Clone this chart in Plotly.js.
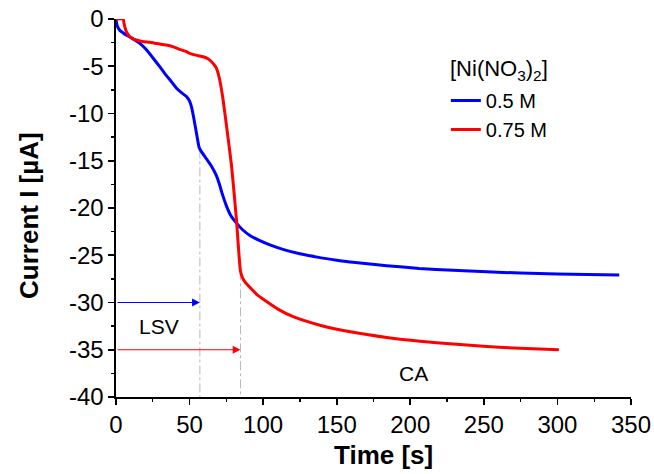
<!DOCTYPE html>
<html>
<head>
<meta charset="utf-8">
<script src="https://cdn.plot.ly/plotly-3.0.1.min.js"></script>
<style>html,body{margin:0;padding:0;background:#fff;}#chart{width:654px;height:474px;}</style>
</head>
<body>
<div id="chart"></div>
<script>
// Time [s] and current [µA] for 0.5 M Ni(NO3)2
const timeBlue = [0, 0.8, 2.5, 6, 10.5, 16, 21, 25, 30, 34.3, 38, 41, 44.5, 47.9, 50, 51.3, 53, 54.7, 56.5, 57.5, 61.5, 65, 68.3, 70.5, 72, 75.1, 78, 81.9, 86, 91, 97, 104.6, 114, 125, 138.6, 150, 161, 184, 206, 229, 252, 274.6, 300, 320, 342];
const currentBlue = [0, -0.7, -1.2, -1.6, -2.0, -2.55, -3.3, -4.1, -5.1, -6.0, -6.7, -7.3, -7.8, -8.2, -8.7, -9.3, -10.6, -12.1, -13.6, -13.9, -14.8, -15.6, -16.6, -17.6, -18.4, -19.8, -20.8, -21.6, -22.3, -22.9, -23.4, -23.9, -24.4, -24.85, -25.25, -25.52, -25.75, -26.1, -26.4, -26.6, -26.75, -26.88, -26.98, -27.05, -27.1];
// Time [s] and current [µA] for 0.75 M Ni(NO3)2
const timeRed = [0, 4.8, 5.5, 6.6, 8, 9.3, 11.5, 13.9, 18, 22.9, 28, 34.3, 39, 43.3, 47, 50.1, 55, 59.2, 62.5, 64.9, 66.8, 68.3, 69.5, 70.5, 72.8, 75.1, 78.5, 81.9, 84.6, 86, 88, 91, 96, 102.3, 110, 120.4, 138.6, 161.2, 184, 206.6, 229.2, 252, 274.6, 301];
const currentRed = [0, 0, -0.5, -1.16, -1.6, -1.87, -2.1, -2.22, -2.38, -2.47, -2.6, -2.75, -2.95, -3.21, -3.4, -3.63, -3.85, -3.99, -4.2, -4.52, -4.85, -5.22, -5.8, -6.46, -8.57, -11.3, -15.5, -21.3, -26.7, -27.4, -27.9, -28.4, -29.2, -29.9, -30.7, -31.5, -32.4, -33.15, -33.7, -34.1, -34.4, -34.65, -34.85, -35.0];

const seriesNames = ['0.5 M', '0.75 M'];
const seriesColors = ['#0000ff', '#ff0000'];
const legendTitle = '[Ni(NO<sub>3</sub>)<sub>2</sub>]';
const xTitle = '<b>Time [s]</b>';
const yTitle = '<b>Current I [µA]</b>';
// LSV end times, current at the LSV/CA switch, and arrow levels
const lsvEndTime = [57, 84.6];
const switchCurrent = [-13.8, -26.7];
const arrowLevel = [-30, -35];
const xTicks = [0, 50, 100, 150, 200, 250, 300, 350];
const yTicks = [0, -5, -10, -15, -20, -25, -30, -35, -40];
const stageLabels = ['LSV', 'CA'];
const stageLabelX = [29.5, 202];
const stageLabelY = [-32.5, -37.5];

const FONT = 'Liberation Sans, Arial, sans-serif';

const traces = [
  {x: timeBlue, y: currentBlue, name: seriesNames[0], mode: 'lines', line: {color: seriesColors[0], width: 3, shape: 'spline', smoothing: 0.5}},
  {x: timeRed, y: currentRed, name: seriesNames[1], mode: 'lines', line: {color: seriesColors[1], width: 3, shape: 'spline', smoothing: 0.5}}
];

const shapes = lsvEndTime.map((t, i) => ({
  type: 'line', xref: 'x', yref: 'y', x0: t, x1: t, y0: switchCurrent[i], y1: -40,
  line: {color: '#b8b8b8', width: 1, dash: 'dashdot'}, layer: 'below'
}));

const annotations = lsvEndTime.map((t, i) => ({
  x: t, y: arrowLevel[i], ax: 0, ay: arrowLevel[i], xref: 'x', yref: 'y', axref: 'x', ayref: 'y',
  text: '', showarrow: true, arrowhead: 2, arrowsize: 1.3, arrowwidth: 1.2, arrowcolor: seriesColors[i], standoff: 0
})).concat(stageLabels.map((s, i) => ({
  x: stageLabelX[i], y: stageLabelY[i], xref: 'x', yref: 'y', text: s, showarrow: false,
  font: {family: FONT, size: 21, color: '#000'}
}))).concat([
  {x: 0.744, y: 0.865, xref: 'paper', yref: 'paper', xanchor: 'center', yanchor: 'middle',
   text: legendTitle, showarrow: false, font: {family: FONT, size: 22, color: '#000'}},
  {x: 0.52, y: -0.1534, xref: 'paper', yref: 'paper', xanchor: 'center', yanchor: 'middle',
   text: xTitle, showarrow: false, font: {family: FONT, size: 26, color: '#000'}},
  {x: -0.1689, y: 0.479, xref: 'paper', yref: 'paper', xanchor: 'center', yanchor: 'middle', textangle: -90,
   text: yTitle, showarrow: false, font: {family: FONT, size: 26, color: '#000'}}
]);

const layout = {
  width: 654, height: 474,
  margin: {l: 116, r: 23, t: 19, b: 77, pad: 0},
  paper_bgcolor: '#fff', plot_bgcolor: '#fff',
  font: {family: FONT, color: '#000'},
  showlegend: true,
  legend: {
    x: 0.6405, y: 0.836, xanchor: 'left', yanchor: 'top', bgcolor: 'rgba(0,0,0,0)',
    font: {family: FONT, size: 20, color: '#000'},
    tracegroupgap: 0
  },
  xaxis: {
    range: [0, 350], tickvals: xTicks, ticktext: xTicks.map(String),
    showgrid: false, zeroline: false, showline: true, linecolor: '#000', linewidth: 1.6,
    ticks: 'outside', ticklen: 6, tickwidth: 1.6, tickcolor: '#000',
    minor: {dtick: 25, ticks: 'outside', ticklen: 3, tickwidth: 1.4, tickcolor: '#000', showgrid: false},
    tickfont: {family: FONT, size: 24, color: '#000'},
    fixedrange: true
  },
  yaxis: {
    range: [-40, 0], tickvals: yTicks, ticktext: yTicks.map(String),
    showgrid: false, zeroline: false, showline: true, linecolor: '#000', linewidth: 1.6,
    ticks: 'outside', ticklen: 6, tickwidth: 1.6, tickcolor: '#000',
    minor: {dtick: 2.5, ticks: 'outside', ticklen: 3, tickwidth: 1.4, tickcolor: '#000', showgrid: false},
    tickfont: {family: FONT, size: 24, color: '#000'},
    fixedrange: true
  },
  shapes: shapes,
  annotations: annotations
};

Plotly.newPlot('chart', traces, layout, {staticPlot: true, displayModeBar: false});
</script>
</body>
</html>
